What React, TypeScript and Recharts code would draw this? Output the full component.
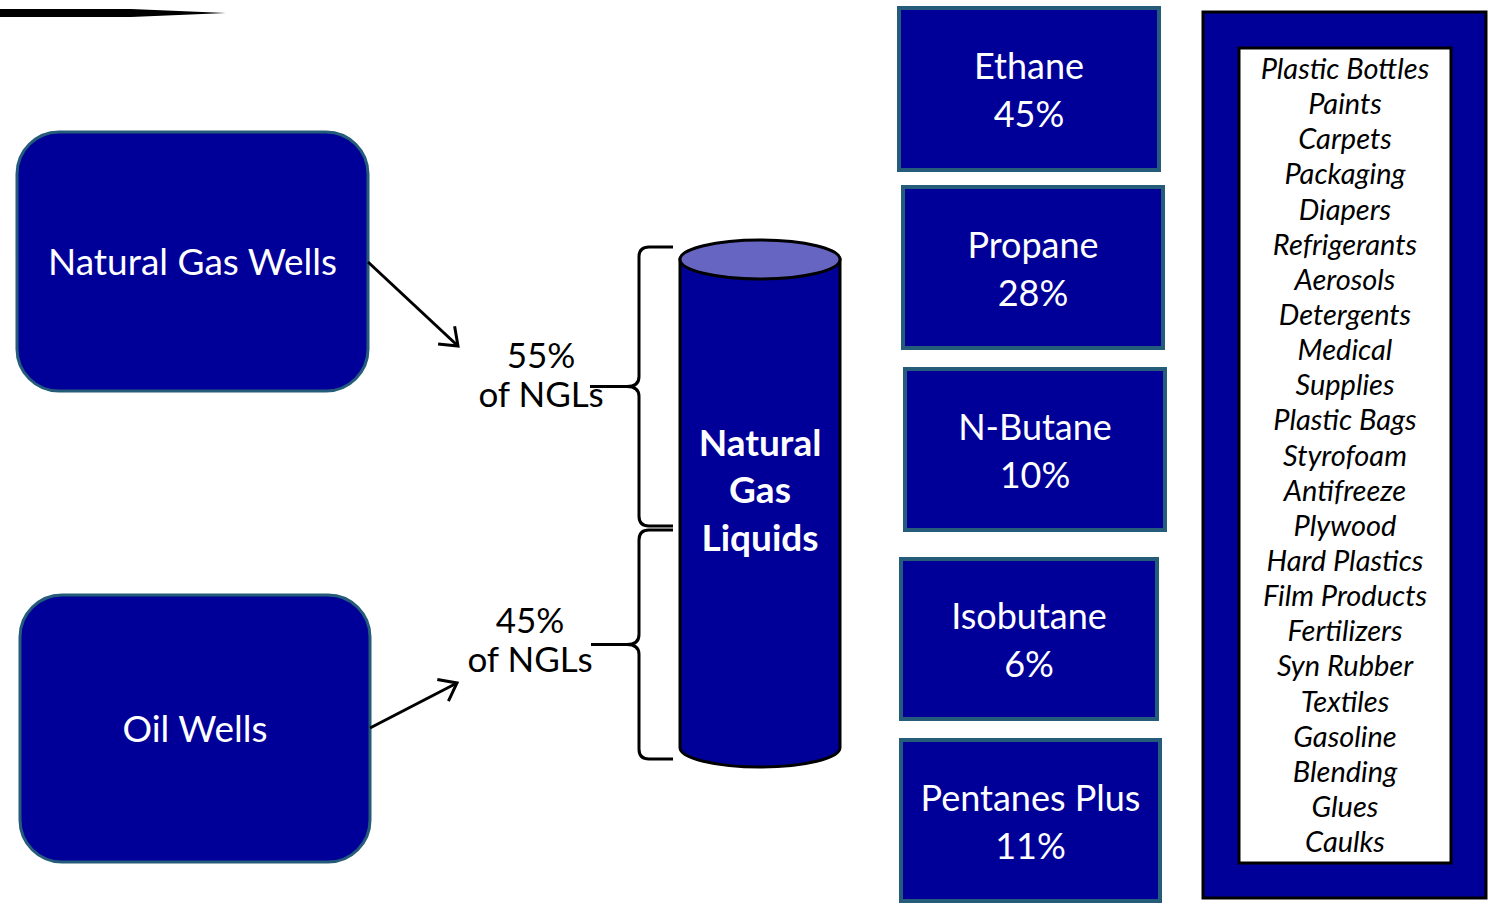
import { ComposedChart, XAxis, YAxis, ReferenceArea, ReferenceLine } from 'recharts';

const W = 1490;
const H = 906;
const NAVY = '#000099';
const TEAL = '#245C7A';
const LID = '#6666C2';
const FONT = 'Lato, "Open Sans", sans-serif';

// text content
const sources = ['Natural Gas Wells', 'Oil Wells'];
const sourceShares = ['55%', '45%'];
const hubLabel = ['Natural', 'Gas', 'Liquids'];
const products = ['Ethane', 'Propane', 'N-Butane', 'Isobutane', 'Pentanes Plus'];
const productShares = ['45%', '28%', '10%', '6%', '11%'];
const uses = [
  'Plastic Bottles', 'Paints', 'Carpets', 'Packaging', 'Diapers', 'Refrigerants',
  'Aerosols', 'Detergents', 'Medical', 'Supplies', 'Plastic Bags', 'Styrofoam',
  'Antifreeze', 'Plywood', 'Hard Plastics', 'Film Products', 'Fertilizers',
  'Syn Rubber', 'Textiles', 'Gasoline', 'Blending', 'Glues', 'Caulks'
];

// layout (axis units = page pixels)
const sourceBoxes = [
  { x1: 17, x2: 368, y1: 132, y2: 391 },
  { x1: 20, x2: 370, y1: 595, y2: 862 }
];
const arrows = [
  { from: { x: 368, y: 262 }, to: { x: 458, y: 346 } },
  { from: { x: 370, y: 728 }, to: { x: 457, y: 683 } }
];
const shareLabels = [
  { x1: 470, x2: 612, y1: 340, y2: 412 },
  { x1: 460, x2: 600, y1: 605, y2: 678 }
];
const braces = [
  { x1: 590, x2: 673, y1: 247, y2: 526 },
  { x1: 591, x2: 673, y1: 530, y2: 759 }
];
const hub = { x1: 680, x2: 840, y1: 240, y2: 767 };
const productBoxes = [
  { x1: 899, x2: 1159, y1: 8, y2: 170 },
  { x1: 903, x2: 1163, y1: 187, y2: 348 },
  { x1: 905, x2: 1165, y1: 369, y2: 530 },
  { x1: 901, x2: 1157, y1: 559, y2: 719 },
  { x1: 901, x2: 1160, y1: 740, y2: 901 }
];
const usesOuter = { x1: 1203, x2: 1486, y1: 12, y2: 898 };
const usesInner = { x1: 1239, x2: 1451, y1: 48, y2: 863 };

const SourceShape = (label: string) => (p: any) => (
  <g>
    <rect x={p.x} y={p.y} width={p.width} height={p.height} rx={42} ry={42}
      fill={NAVY} stroke={TEAL} strokeWidth={3} />
    <text x={p.x + p.width / 2} y={p.y + p.height / 2 + 13} textAnchor="middle"
      fill="#fff" fontFamily={FONT} fontSize={37}>{label}</text>
  </g>
);

const ProductShape = (name: string, share: string) => (p: any) => {
  const cx = p.x + p.width / 2;
  const cy = p.y + p.height / 2;
  return (
    <g>
      <rect x={p.x} y={p.y} width={p.width} height={p.height}
        fill={NAVY} stroke={TEAL} strokeWidth={4} />
      <text x={cx} y={cy - 10} textAnchor="middle" fill="#fff" fontFamily={FONT} fontSize={36}>{name}</text>
      <text x={cx} y={cy + 38} textAnchor="middle" fill="#fff" fontFamily={FONT} fontSize={36}>{share}</text>
    </g>
  );
};

const ShareShape = (share: string) => (p: any) => {
  const cx = p.x + p.width / 2;
  return (
    <g fontFamily={FONT} fontSize={35} fill="#000" textAnchor="middle">
      <text x={cx} y={p.y + 28}>{share}</text>
      <text x={cx} y={p.y + 67}>of NGLs</text>
    </g>
  );
};

const BraceShape = (p: any) => {
  const xR = p.x + p.width;
  const xv = xR - 34;
  const xL = p.x;
  const top = p.y;
  const bot = p.y + p.height;
  const mid = p.y + p.height / 2;
  const d = `M${xR},${top} L${xv + 10},${top} Q${xv},${top} ${xv},${top + 10} L${xv},${mid - 10} ` +
    `Q${xv},${mid} ${xv - 12},${mid} L${xL},${mid} M${xv - 12},${mid} Q${xv},${mid} ${xv},${mid + 10} ` +
    `L${xv},${bot - 10} Q${xv},${bot} ${xv + 10},${bot} L${xR},${bot}`;
  return <path d={d} fill="none" stroke="#000" strokeWidth={3} />;
};

const HubShape = (p: any) => {
  const rx = p.width / 2;
  const ry = 19.5;
  const cx = p.x + rx;
  const topY = p.y + ry;
  const botY = p.y + p.height - ry;
  const body = `M${p.x},${topY} L${p.x},${botY} A${rx},${ry} 0 0 0 ${p.x + p.width},${botY} L${p.x + p.width},${topY} Z`;
  const mid = p.y + p.height / 2;
  return (
    <g>
      <path d={body} fill={NAVY} stroke="#000" strokeWidth={3} />
      <ellipse cx={cx} cy={topY} rx={rx} ry={ry} fill={LID} stroke="#000" strokeWidth={3} />
      {hubLabel.map((t, i) => (
        <text key={t} x={cx} y={mid - 48 + i * 47.5} textAnchor="middle" fill="#fff"
          fontFamily={FONT} fontWeight={700} fontSize={37}>{t}</text>
      ))}
    </g>
  );
};

const ArrowShape = (p: any) => {
  const { x1, y1, x2, y2 } = p;
  const a = Math.atan2(y2 - y1, x2 - x1);
  const len = 20;
  const spread = 0.65;
  const h1 = { x: x2 - len * Math.cos(a - spread), y: y2 - len * Math.sin(a - spread) };
  const h2 = { x: x2 - len * Math.cos(a + spread), y: y2 - len * Math.sin(a + spread) };
  return (
    <g stroke="#000" strokeWidth={3} fill="none">
      <line x1={x1} y1={y1} x2={x2} y2={y2} />
      <polyline points={`${h1.x},${h1.y} ${x2},${y2} ${h2.x},${h2.y}`} />
    </g>
  );
};

const SwooshShape = (p: any) => {
  const yc = p.y + p.height / 2;
  const d = `M${p.x},${p.y} L${p.x + p.width * 0.58},${p.y} L${p.x + p.width},${yc} ` +
    `L${p.x + p.width * 0.58},${p.y + p.height} L${p.x},${p.y + p.height} Z`;
  return <path d={d} fill="#000" />;
};

const UsesOuterShape = (p: any) => (
  <rect x={p.x} y={p.y} width={p.width} height={p.height} fill={NAVY} stroke="#000" strokeWidth={3} />
);

const UsesInnerShape = (p: any) => (
  <g>
    <rect x={p.x} y={p.y} width={p.width} height={p.height} fill="#fff" stroke="#000" strokeWidth={3} />
    {uses.map((u, i) => (
      <text key={u} x={p.x + p.width / 2} y={p.y + 31 + i * 35.14} textAnchor="middle"
        fill="#000" fontFamily={FONT} fontStyle="italic" fontSize={29}>{u}</text>
    ))}
  </g>
);

export default function App() {
  return (
    <div style={{ position: 'absolute', left: 0, top: 0, background: '#fff' }}>
      <ComposedChart width={W} height={H} data={[]} margin={{ top: 0, right: 0, bottom: 0, left: 0 }}>
        <XAxis type="number" dataKey="x" domain={[0, W]} allowDataOverflow hide />
        <YAxis type="number" dataKey="y" domain={[0, H]} allowDataOverflow reversed hide />

        <ReferenceArea x1={0} x2={226} y1={9} y2={17} ifOverflow="visible" shape={SwooshShape} />

        {sourceBoxes.map((b, i) => (
          <ReferenceArea key={sources[i]} {...b} ifOverflow="visible" shape={SourceShape(sources[i])} />
        ))}

        {arrows.map((a, i) => (
          <ReferenceLine key={'arrow' + i} segment={[a.from, a.to]} ifOverflow="visible" shape={ArrowShape} />
        ))}

        {shareLabels.map((b, i) => (
          <ReferenceArea key={'share' + i} {...b} ifOverflow="visible" shape={ShareShape(sourceShares[i])} />
        ))}

        {braces.map((b, i) => (
          <ReferenceArea key={'brace' + i} {...b} ifOverflow="visible" shape={BraceShape} />
        ))}

        <ReferenceArea {...hub} ifOverflow="visible" shape={HubShape} />

        {productBoxes.map((b, i) => (
          <ReferenceArea key={products[i]} {...b} ifOverflow="visible"
            shape={ProductShape(products[i], productShares[i])} />
        ))}

        <ReferenceArea {...usesOuter} ifOverflow="visible" shape={UsesOuterShape} />
        <ReferenceArea {...usesInner} ifOverflow="visible" shape={UsesInnerShape} />
      </ComposedChart>
    </div>
  );
}
